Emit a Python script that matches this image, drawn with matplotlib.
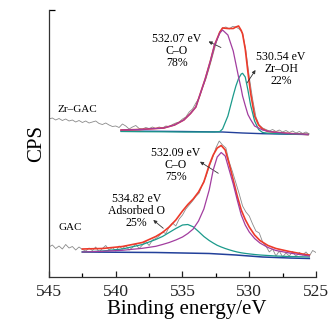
import numpy as np
import matplotlib
matplotlib.use('Agg')
import matplotlib.pyplot as plt
from matplotlib.ticker import MultipleLocator

plt.rcParams.update({'font.family': 'Liberation Serif', 'mathtext.fontset': 'stix'})

RED, MAG, TEAL, BLUE, GREY = '#ee3a2a', '#a23d9f', '#1b9a8b', '#22409a', '#8a8a8a'

# raw spectra, 0.25 eV steps from 545 eV downwards (arbitrary CPS units)
zr_raw_ev = np.arange(545.0, 525.4, -0.25)
zr_raw = [158, 159, 157, 158.5, 156.5, 158, 156, 157, 155, 156.5,
          154.5, 156, 154, 155, 156, 153.5, 152.5, 154, 152, 150.5,
          151, 149.5, 153, 151, 148, 150, 151.5, 148.5, 148, 149.5,
          148.5, 150, 148.5, 150, 149, 151, 150.5, 152.5, 154, 155,
          158, 160, 165, 168, 174, 179, 189, 198, 209, 221,
          233, 244, 249, 250, 248, 250.5, 250, 248, 244, 226,
          200, 178, 160, 152, 149, 147.5, 146, 147.5, 145.5, 147,
          145, 146.5, 144.5, 146, 144, 145.5, 143.5, 145, 143]

gac_raw_ev = np.arange(545.0, 524.9, -0.25)
gac_raw = [30, 32, 28.5, 31, 28, 32.5, 29, 30.5, 27, 30,
           27.5, 26, 29, 26.5, 30, 25, 28.5, 31.5, 27, 29.5,
           26, 31, 28, 31.5, 27, 29.5, 33, 28.5, 32, 35.5,
           31.5, 37, 38.5, 41, 45, 43.5, 50, 54, 51, 58,
           62, 68, 72, 76, 80.5, 84, 93, 100, 110, 119,
           129, 136, 132, 129, 115, 105, 94, 83, 71, 65,
           61, 53, 46, 44, 35, 31, 25, 28, 21, 26,
           20, 24, 21, 25.5, 20.5, 24.5, 22, 25, 21, 26.5, 24.5]

# fitted components, Zr-GAC
zr_fit_ev = [539.6, 538.2, 536.4, 535.6, 534.9, 534.4, 534.0, 533.7, 533.3, 532.9,
             532.6, 532.2, 532.0, 531.6, 531.2, 531.0, 530.8, 530.6, 530.5, 530.3,
             530.1, 529.9, 529.6, 529.3, 529.0, 528.6, 528.1, 527.0, 525.6]
zr_sum = [147, 147.5, 149, 152, 157, 163.5, 170, 182, 198, 216.5,
          232, 245, 249, 248.5, 248.5, 250, 251, 246.5, 243, 228,
          205, 184, 161, 152, 148, 145.5, 144.8, 143.5, 142.5]
zr_co = [147, 147.5, 149, 152, 157, 163.5, 170, 182, 198, 216.5,
         232, 244, 247, 242, 226, 213, 200, 188, 181, 171.5,
         162.5, 157.5, 151, 149, 147, 145.8, 144.8, 143.5, 142.5]
zr_oh = [145.5, 145.3, 145.2, 145.1, 145, 145, 145, 145, 145, 145,
         145, 145.5, 148, 161, 181.5, 191, 198.5, 203, 203.7, 200,
         187, 172, 156, 147.5, 144.5, 143.8, 143.5, 143, 142.5]
zr_bg_ev = [539.6, 535.0, 532.0, 530.5, 529.0, 527.0, 525.6]
zr_bg = [146, 145.5, 145, 144, 143.3, 142.8, 142.5]

# fitted components, GAC
gac_fit_ev = [542.5, 541.0, 539.5, 538.0, 537.0, 536.5, 536.0, 535.5, 535.0, 534.6,
              534.2, 533.8, 533.4, 533.0, 532.7, 532.4, 532.1, 531.8, 531.5, 531.2,
              530.9, 530.6, 530.3, 530.0, 529.6, 529.2, 528.6, 528.0, 527.0, 526.0, 525.5]
gac_sum = [28, 28.5, 30.5, 34.5, 40.5, 44.5, 50, 57, 66, 72.5,
           78, 85, 95, 112, 122, 129, 131.5, 127, 113, 97,
           81, 67, 57.5, 50, 42, 36.5, 31.5, 28.5, 25.5, 23, 22]
gac_co = [25, 25.7, 26.7, 28.7, 30.7, 32.5, 34.5, 37, 40, 43.5,
          48, 56, 68, 87, 107, 120, 124.5, 121, 107, 93,
          77, 62, 52, 45, 38.5, 34, 29.5, 26.5, 24, 22, 21]
gac_ads = [25, 26, 28, 32.5, 37.5, 40.5, 44.5, 48.5, 52, 52.5,
           50.2, 45.5, 40.5, 36.5, 34, 31.7, 30, 28.5, 27.2, 26,
           25, 24.2, 23.6, 23.1, 22.5, 22, 21.5, 21, 20.5, 20.2, 20]
gac_bg_ev = [542.5, 537.0, 535.0, 533.0, 531.0, 529.0, 527.0, 525.5]
gac_bg = [25, 24.5, 24, 23.5, 22, 20, 19, 18.5]

fig = plt.figure(figsize=(3.28, 3.2), dpi=100)
ax = fig.add_axes([49/328, 43/320, 267/328, 267/320])

for ev, raw in [(zr_raw_ev, zr_raw), (gac_raw_ev, gac_raw)]:
    ax.plot(ev, raw, color=GREY, lw=0.6, zorder=1)

ax.plot(zr_bg_ev, zr_bg, color=BLUE, lw=1.0, zorder=2)
ax.plot(gac_bg_ev, gac_bg, color=BLUE, lw=1.1, zorder=2)
ax.plot(zr_fit_ev, zr_sum, color=RED, lw=1.2, zorder=3)
ax.plot(gac_fit_ev, gac_sum, color=RED, lw=1.2, zorder=3)
ax.plot(zr_fit_ev, zr_oh, color=TEAL, lw=0.9, zorder=4)
ax.plot(gac_fit_ev, gac_ads, color=TEAL, lw=0.9, zorder=4)
ax.plot(zr_fit_ev, zr_co, color=MAG, lw=0.9, zorder=5)
ax.plot(gac_fit_ev, gac_co, color=MAG, lw=0.9, zorder=5)

small = dict(fontsize=8.5, ha='center', va='center', linespacing=1.0)
ax.text(535.41, 225.5, '532.07 eV\nC\u2013O\n78%', **small)
ax.text(527.62, 208.5, '530.54 eV\nZr\u2013OH\n22%', **small)
ax.text(535.49, 112, '532.09 eV\nC\u2013O\n75%', **small)
ax.text(538.45, 66, '534.82 eV\nAdsorbed O\n25%', **small)
ax.text(542.87, 167, 'Zr\u2013GAC', fontsize=8, ha='center', va='center')
ax.text(543.43, 49, 'GAC', fontsize=8, ha='center', va='center')

arr = dict(arrowstyle='-|>', color='#333333', lw=0.6, mutation_scale=5,
           shrinkA=0, shrinkB=0)
for head, tail in [((533.05, 235.5), (532.12, 229.5)),
                   ((529.53, 207), (530.17, 194)),
                   ((533.69, 115.3), (532.32, 103.7)),
                   ((537.19, 57), (536.44, 48.7))]:
    ax.annotate('', xy=head, xytext=tail, arrowprops=arr)

ax.set_xlim(545, 525)
ax.set_ylim(0, 267)
ax.xaxis.set_major_locator(MultipleLocator(5))
ax.xaxis.set_minor_locator(MultipleLocator(2.5))
ax.set_yticks([267])
ax.set_yticklabels([])
ax.tick_params(axis='x', which='major', direction='in', length=4, width=0.9,
               labelsize=12.5, pad=5, colors='#222222')
ax.tick_params(axis='x', which='minor', direction='in', length=3, width=0.9)
ax.tick_params(axis='y', direction='in', length=4, width=0.9)
for side in ['top', 'right']:
    ax.spines[side].set_visible(False)
for side in ['left', 'bottom']:
    ax.spines[side].set_linewidth(0.9)
    ax.spines[side].set_color('#333333')

ax.set_xlabel('Binding energy/eV', fontsize=15)
ax.xaxis.set_label_coords(0.515, -0.088)
ax.set_ylabel('CPS', fontsize=15)
ax.yaxis.set_label_coords(-0.012, 0.5)

fig.savefig('out.png', dpi=100)
